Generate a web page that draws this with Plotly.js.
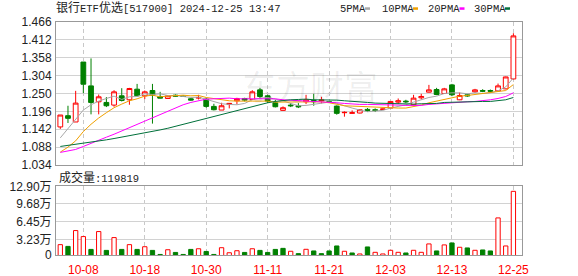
<!DOCTYPE html>
<html>
<head>
<meta charset="utf-8">
<script src="https://cdn.plot.ly/plotly-3.0.1.min.js"></script>
<style>
html,body{margin:0;padding:0;background:#ffffff;}
#chart{width:578px;height:276px;}
</style>
</head>
<body>
<div id="chart"></div>
<script>
// ---------- data ----------
const dates = ['2024-09-26','2024-09-27','2024-09-30','2024-10-08','2024-10-09','2024-10-10','2024-10-11','2024-10-14','2024-10-15','2024-10-16',
 '2024-10-17','2024-10-18','2024-10-21','2024-10-22','2024-10-23','2024-10-24','2024-10-25','2024-10-28','2024-10-29','2024-10-30',
 '2024-10-31','2024-11-01','2024-11-04','2024-11-05','2024-11-06','2024-11-07','2024-11-08','2024-11-11','2024-11-12','2024-11-13',
 '2024-11-14','2024-11-15','2024-11-18','2024-11-19','2024-11-20','2024-11-21','2024-11-22','2024-11-25','2024-11-26','2024-11-27',
 '2024-11-28','2024-11-29','2024-12-02','2024-12-03','2024-12-04','2024-12-05','2024-12-06','2024-12-09','2024-12-10','2024-12-11',
 '2024-12-12','2024-12-13','2024-12-16','2024-12-17','2024-12-18','2024-12-19','2024-12-20','2024-12-23','2024-12-24','2024-12-25'];

const openP  = [1.149,1.183,1.164,1.345,1.273,1.225,1.223,1.215,1.243,1.231,
 1.263,1.243,1.259,1.241,1.235,1.245,1.242,1.234,1.236,1.233,
 1.211,1.200,1.217,1.228,1.235,1.232,1.261,1.243,1.222,1.199,
 1.215,1.213,1.225,1.229,1.228,1.225,1.212,1.192,1.190,1.191,
 1.202,1.201,1.202,1.206,1.224,1.227,1.216,1.237,1.254,1.262,
 1.250,1.276,1.231,1.246,1.255,1.259,1.259,1.258,1.264,1.294];
const highP  = [1.185,1.213,1.258,1.345,1.356,1.247,1.239,1.260,1.266,1.267,
 1.279,1.259,1.279,1.255,1.245,1.247,1.244,1.236,1.246,1.237,
 1.219,1.222,1.221,1.237,1.237,1.260,1.267,1.246,1.231,1.211,
 1.221,1.221,1.246,1.249,1.240,1.226,1.214,1.196,1.199,1.203,
 1.206,1.205,1.204,1.226,1.235,1.231,1.246,1.249,1.276,1.267,
 1.267,1.279,1.253,1.249,1.264,1.263,1.262,1.280,1.301,1.432];
const lowP   = [1.143,1.161,1.164,1.251,1.187,1.187,1.209,1.210,1.226,1.216,
 1.241,1.233,1.159,1.235,1.234,1.241,1.240,1.228,1.232,1.207,
 1.199,1.200,1.205,1.217,1.226,1.231,1.236,1.221,1.208,1.198,
 1.209,1.206,1.218,1.213,1.220,1.223,1.186,1.180,1.189,1.190,
 1.195,1.194,1.201,1.206,1.218,1.221,1.215,1.232,1.253,1.245,
 1.249,1.242,1.230,1.240,1.252,1.254,1.255,1.257,1.263,1.293];
const closeP = [1.185,1.175,1.221,1.278,1.223,1.240,1.213,1.255,1.229,1.265,
 1.243,1.255,1.245,1.236,1.243,1.242,1.241,1.230,1.238,1.211,
 1.201,1.213,1.220,1.235,1.230,1.255,1.241,1.227,1.210,1.207,
 1.213,1.210,1.231,1.225,1.230,1.224,1.190,1.193,1.192,1.201,
 1.199,1.199,1.203,1.226,1.228,1.225,1.236,1.241,1.261,1.247,
 1.264,1.246,1.244,1.243,1.261,1.257,1.257,1.273,1.300,1.424];

const ma5  = [1.116,1.143,1.172,1.200,1.216,1.227,1.235,1.242,1.232,1.240,
 1.241,1.249,1.247,1.249,1.244,1.244,1.241,1.238,1.239,1.232,
 1.224,1.219,1.217,1.216,1.220,1.231,1.236,1.238,1.233,1.228,
 1.220,1.213,1.214,1.217,1.222,1.224,1.220,1.212,1.206,1.200,
 1.195,1.197,1.199,1.206,1.211,1.216,1.224,1.231,1.238,1.242,
 1.250,1.252,1.252,1.249,1.252,1.250,1.252,1.258,1.270,1.297];
const ma10 = [1.073,1.088,1.107,1.135,1.157,1.176,1.192,1.207,1.218,1.228,
 1.234,1.242,1.245,1.240,1.242,1.243,1.245,1.243,1.244,1.238,
 1.234,1.230,1.228,1.227,1.226,1.227,1.227,1.227,1.224,1.224,
 1.225,1.225,1.226,1.225,1.225,1.222,1.217,1.213,1.212,1.211,
 1.210,1.208,1.206,1.206,1.206,1.206,1.210,1.215,1.222,1.227,
 1.233,1.238,1.242,1.244,1.247,1.250,1.252,1.255,1.259,1.277];
const ma20 = [1.072,1.076,1.081,1.090,1.100,1.109,1.118,1.127,1.137,1.147,
 1.157,1.167,1.177,1.187,1.197,1.207,1.216,1.223,1.229,1.233,
 1.234,1.236,1.236,1.234,1.234,1.235,1.236,1.235,1.234,1.231,
 1.230,1.227,1.227,1.226,1.226,1.225,1.222,1.220,1.218,1.217,
 1.217,1.217,1.216,1.215,1.215,1.214,1.214,1.214,1.217,1.219,
 1.221,1.223,1.224,1.225,1.226,1.228,1.231,1.235,1.241,1.252];
const ma30 = [1.090,1.093,1.097,1.101,1.104,1.107,1.110,1.114,1.118,1.122,
 1.126,1.130,1.135,1.140,1.145,1.151,1.157,1.163,1.169,1.174,
 1.180,1.186,1.192,1.198,1.205,1.211,1.217,1.222,1.226,1.229,
 1.231,1.232,1.233,1.231,1.231,1.231,1.230,1.228,1.227,1.224,
 1.223,1.221,1.220,1.219,1.219,1.218,1.218,1.219,1.219,1.220,
 1.223,1.224,1.224,1.225,1.226,1.226,1.226,1.228,1.231,1.238];

// volume in 万 (10k); last bar = 119819
const volWan = [2.25,1.93,4.82,3.72,1.38,4.64,1.20,3.54,1.38,2.25,
 1.38,1.87,1.20,0.46,1.32,0.83,0.46,1.38,1.50,1.01,
 0.46,1.69,0.77,1.14,0.83,1.50,1.20,0.83,1.38,1.57,
 1.04,0.61,1.40,1.10,0.61,1.10,2.01,1.04,0.73,0.55,
 1.83,0.85,0.55,1.22,0.85,0.73,1.22,0.85,2.38,1.10,
 2.20,2.56,1.77,1.65,1.22,1.28,1.10,7.13,2.01,11.98];
// 1 = red (up) bar, 0 = green (down) bar, as coloured in the volume panel
const volUp = [1,0,1,1,0,1,0,1,0,1, 0,1,0,0,1,0,0,0,1,0, 0,1,1,1,0,1,0,0,0,0,
 1,0,1,0,0,0,0,1,0,1, 0,1,1,1,1,0,1,1,1,0, 1,0,1,0,1,0,0,1,1,1];

const tickDates  = ['2024-10-08','2024-10-18','2024-10-30','2024-11-11','2024-11-21','2024-12-03','2024-12-13','2024-12-25'];
const tickLabels = ['10-08','10-18','10-30','11-11','11-21','12-03','12-13','12-25'];
const priceTicks = [1.034,1.088,1.142,1.196,1.250,1.304,1.358,1.412,1.466];
const volTicks   = [0.36,3.225,6.45,9.675,12.9];
const volTickText= ['0','3.23万','6.45万','9.68万','12.90万'];
const maNames  = ['5PMA','10PMA','20PMA','30PMA'];
const maColors = ['#a8a8a8','#f0a000','#ff00ff','#00703a'];
const volumeText = '119819';
const titleText = '<span style="font-size:12px">银行</span>ETF<span style="font-size:12px">优选</span>[517900] 2024-12-25 13:47';

// ---------- geometry helpers (layout only) ----------
const W = 578, H = 276, ML = 56, MR = 56, MT = 22, MB = 21;
const PW = W - ML - MR, PH = H - MT - MB;
const px2x = p => (p - ML) / PW;
const px2y = p => (H - MB - p) / PH;

const RED = '#ff0000', GREEN = '#008000';
const monoFont = 'Liberation Mono, DejaVu Sans Mono, Noto Sans CJK SC, monospace';
const sansFont = 'Liberation Sans, Arial, Noto Sans CJK SC, sans-serif';

const traces = [];
traces.push({
  type: 'candlestick', x: dates, open: openP, high: highP, low: lowP, close: closeP,
  xaxis: 'x', yaxis: 'y', whiskerwidth: 0,
  increasing: {line: {color: RED, width: 1}, fillcolor: '#ffffff'},
  decreasing: {line: {color: GREEN, width: 1}, fillcolor: GREEN},
  hoverinfo: 'skip', showlegend: false
});
[ma5, ma10, ma20, ma30].forEach((arr, k) => {
  traces.push({type: 'scatter', mode: 'lines', x: dates, y: arr, xaxis: 'x', yaxis: 'y',
    line: {color: maColors[k], width: 1}, name: maNames[k], hoverinfo: 'skip', showlegend: false});
});
traces.push({
  type: 'bar', x: dates, y: volWan, xaxis: 'x2', yaxis: 'y2', width: 0.56,
  marker: {color: volUp.map(u => u ? '#ffffff' : GREEN),
           line: {color: volUp.map(u => u ? RED : GREEN), width: 1}},
  hoverinfo: 'skip', showlegend: false
});

const xBase = {
  type: 'category', range: [-0.56, 60.12], tickmode: 'array', tickvals: tickDates, ticktext: tickLabels,
  showgrid: true, gridcolor: '#c8c8c8', griddash: '4px,3px', gridwidth: 1,
  showline: true, mirror: true, linecolor: '#999999', linewidth: 1,
  ticks: '', zeroline: false, fixedrange: true
};
const yBase = {
  showgrid: true, gridcolor: '#d2d2d2', gridwidth: 1,
  showline: true, mirror: true, linecolor: '#999999', linewidth: 1,
  ticks: '', zeroline: false, fixedrange: true, tickmode: 'array',
  tickfont: {family: sansFont, size: 12, color: '#222222'}, ticklabelstandoff: 1
};

const annotations = [];
annotations.push({xref: 'paper', yref: 'paper', x: px2x(310), y: px2y(85), xanchor: 'center', yanchor: 'middle',
  text: '东方财富', showarrow: false, font: {family: 'Noto Sans CJK SC', size: 34, color: 'rgba(0,0,0,0.07)'}});
const legX = [338, 380, 426, 472];
maNames.forEach((n, k) => annotations.push({xref: 'paper', yref: 'paper', x: px2x(legX[k]), y: px2y(8.5),
  xanchor: 'left', yanchor: 'middle', text: n, showarrow: false,
  font: {family: monoFont, size: 10.5, color: '#222222'}}));
annotations.push({xref: 'paper', yref: 'paper', x: px2x(57), y: px2y(177.5), xanchor: 'left', yanchor: 'middle',
  text: '<span style="font-size:12px">成交量</span>:' + volumeText, showarrow: false,
  font: {family: monoFont, size: 10.5, color: '#222222'}});

const legMark = [[365,370],[413,418],[459.5,464.5],[505,510]];
const shapes = legMark.map((m, k) => ({type: 'rect', xref: 'paper', yref: 'paper',
  x0: px2x(m[0]), x1: px2x(m[1]), y0: px2y(9.8), y1: px2y(7.3),
  fillcolor: maColors[k], line: {width: 0}}));

const layout = {
  width: W, height: H, margin: {l: ML, r: MR, t: MT, b: MB, pad: 0},
  paper_bgcolor: '#ffffff', plot_bgcolor: '#ffffff', showlegend: false, hovermode: false,
  boxgap: 0.38, boxgroupgap: 0,
  title: {text: titleText, xref: 'container', yref: 'container', x: ML / W, xanchor: 'left',
          y: 1 - 8.5 / H, yanchor: 'middle', font: {family: monoFont, size: 10.5, color: '#222222'}},
  xaxis: Object.assign({}, xBase, {anchor: 'y', showticklabels: false, rangeslider: {visible: false}}),
  xaxis2: Object.assign({}, xBase, {anchor: 'y2', matches: 'x', showticklabels: true,
          tickfont: {family: sansFont, size: 12, color: RED}, ticklabelstandoff: 4}),
  yaxis: Object.assign({}, yBase, {domain: [px2y(165), 1], range: [1.034, 1.466],
          tickvals: priceTicks, ticktext: priceTicks.map(v => v.toFixed(3))}),
  yaxis2: Object.assign({}, yBase, {domain: [0, px2y(186.3)], range: [0.36, 12.9],
          tickvals: volTicks, ticktext: volTickText}),
  annotations: annotations, shapes: shapes
};

Plotly.newPlot('chart', traces, layout, {staticPlot: true, displayModeBar: false});
</script>
</body>
</html>
